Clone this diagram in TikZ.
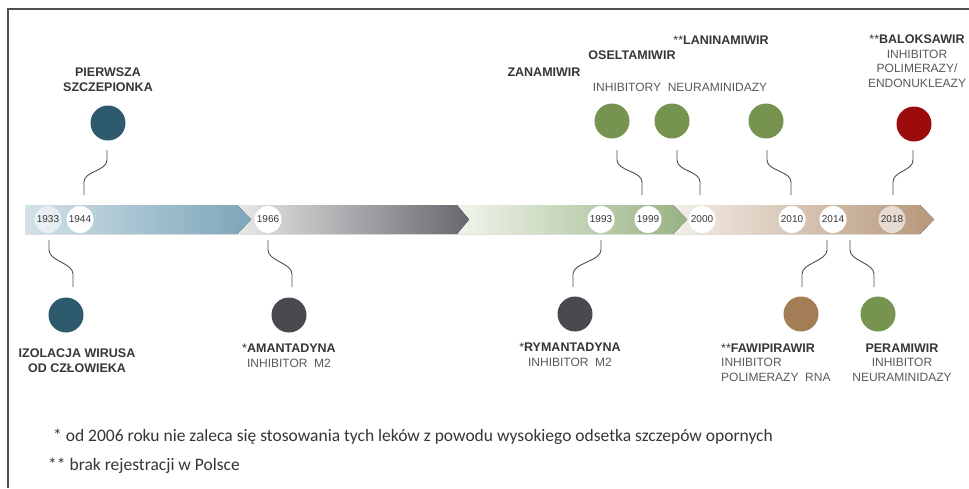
\documentclass[tikz,border=0pt]{standalone}
\usepackage{fontspec}
\setmainfont{Liberation Sans}
\newfontfamily\footfont{Carlito}
\usetikzlibrary{calc}
\definecolor{cteal}{HTML}{2E5A6D}
\definecolor{cdgray}{HTML}{4A494F}
\definecolor{cgreen}{HTML}{76934F}
\definecolor{cbrown}{HTML}{A37D55}
\definecolor{cred}{HTML}{9C0B0B}
\definecolor{ctxt}{HTML}{363636}
\definecolor{cntxt}{HTML}{5A5A5A}
\definecolor{cline}{HTML}{4F4F4F}
\definecolor{g1l}{HTML}{D2E1E8}\definecolor{g1r}{HTML}{7CA6B9}
\definecolor{g2l}{HTML}{E8E8E8}\definecolor{g2r}{HTML}{68676F}
\definecolor{g3l}{HTML}{F1F5EC}\definecolor{g3r}{HTML}{98B283}
\definecolor{g4l}{HTML}{F4EEE9}\definecolor{g4r}{HTML}{B6977A}
\newcommand\mywig[2]{\draw[conn] (#1) -- ($(#1)+(0,10)$) .. controls ($(#1)+(0,21)$) and ($(#2)+(0,-24)$) .. ($(#2)+(0,-13)$) -- (#2);}
\begin{document}
\begin{tikzpicture}[x=1pt,y=-1pt,
  dot/.style={circle,minimum size=35pt,inner sep=0pt},
  yr/.style={circle,fill=white,minimum size=27pt,inner sep=0pt,text=ctxt,font=\fontsize{10}{12}\selectfont},
  conn/.style={draw=cline,line width=0.9pt},
  lbl/.style={align=center,text=ctxt,font=\fontsize{12.5}{14.6}\selectfont\bfseries,inner sep=0pt},
  sub/.style={align=center,text=cntxt,font=\fontsize{12}{14.6}\selectfont,inner sep=0pt},
  mix/.style={align=center,text=cntxt,font=\fontsize{12}{14.6}\selectfont,inner sep=0pt},
  fnote/.style={anchor=west,inner sep=0pt,text=ctxt,font=\footfont\fontsize{17.5}{19}\selectfont},
  frame/.style={draw=cline,line width=1.2pt}]
\useasboundingbox (0,0) rectangle (969,488);
\fill[white] (0,0) rectangle (969,488);
% frame
\draw[frame] (8,488) -- (8,9) -- (969,9);
% timeline segments (right to left so chevrons overlap)
\fill[left color=g4l, right color=g4r] (673,205) -- (920,205) -- (934,219.5) -- (920,234) -- (673,234) -- cycle;
\fill[left color=g3l, right color=g3r] (457,205) -- (673,205) -- (687,219.5) -- (673,234) -- (457,234) -- cycle;
\fill[left color=g2l, right color=g2r] (237,205) -- (457,205) -- (469,219.5) -- (457,234) -- (237,234) -- cycle;
\fill[left color=g1l, right color=g1r] (25,205) -- (237,205) -- (251,219.5) -- (237,234) -- (25,234) -- cycle;
% years
\node[yr,fill opacity=0.55,text opacity=1] (y1933) at (48,219.5) {1933};
\node[yr] (y1944) at (80,219.5) {1944};
\node[yr] (y1966) at (268,219.5) {1966};
\node[yr] (y1993) at (601,219.5) {1993};
\node[yr] (y1999) at (648,219.5) {1999};
\node[yr] (y2000) at (702,219.5) {2000};
\node[yr] (y2010) at (792,219.5) {2010};
\node[yr] (y2014) at (833,219.5) {2014};
\node[yr,fill opacity=0.6,text opacity=1] (y2018) at (892,219.5) {2018};
% dots
\node[dot,fill=cteal] (d1) at (108,123) {};
\node[dot,fill=cteal] (d2) at (66,315) {};
\node[dot,fill=cdgray] (d3) at (289,315) {};
\node[dot,fill=cdgray] (d4) at (575,314) {};
\node[dot,fill=cgreen] (d5) at (612,121) {};
\node[dot,fill=cgreen] (d6) at (672,121) {};
\node[dot,fill=cgreen] (d7) at (766,121) {};
\node[dot,fill=cred] (d8) at (914,124) {};
\node[dot,fill=cbrown] (d9) at (801,314) {};
\node[dot,fill=cgreen] (d10) at (878,314) {};
% connector end points
\coordinate (a1) at (107,150); \coordinate (b1) at (84,195);
\coordinate (a5) at (617,150); \coordinate (b5) at (642,195);
\coordinate (a6) at (677,150); \coordinate (b6) at (700,195);
\coordinate (a7) at (767,150); \coordinate (b7) at (791,195);
\coordinate (a8) at (913,150); \coordinate (b8) at (893,195);
\coordinate (a2) at (49,240); \coordinate (b2) at (73,287);
\coordinate (a3) at (268,240); \coordinate (b3) at (292,287);
\coordinate (a4) at (601,240); \coordinate (b4) at (573,287);
\coordinate (a9) at (827,240); \coordinate (b9) at (802,287);
\coordinate (a10) at (850,240); \coordinate (b10) at (874,287);
\mywig{a1}{b1}
\mywig{a5}{b5}
\mywig{a6}{b6}
\mywig{a7}{b7}
\mywig{a8}{b8}
\mywig{a2}{b2}
\mywig{a3}{b3}
\mywig{a4}{b4}
\mywig{a9}{b9}
\mywig{a10}{b10}
% labels top
\node[lbl] (t1) at (108,79.5) {PIERWSZA\\SZCZEPIONKA};
\node[lbl] (t2) at (544,72) {ZANAMIWIR};
\node[lbl] (t3) at (632,55) {OSELTAMIWIR};
\node[lbl] (t4) at (721,40) {{\mdseries **}LANINAMIWIR};
\node[sub] (t5) at (680,87) {INHIBITORY\ \ NEURAMINIDAZY};
\node[mix] (t6) at (917,61) {{\bfseries\color{ctxt}\fontsize{12.5}{14.6}\selectfont{\mdseries **}BALOKSAWIR}\\INHIBITOR\\POLIMERAZY/\\ENDONUKLEAZY};
% labels bottom
\node[lbl] (l2) at (77,360.5) {IZOLACJA WIRUSA\\OD CZŁOWIEKA};
\node[mix] (l3) at (289,356) {{\bfseries\color{ctxt}\fontsize{12.5}{14.6}\selectfont{\mdseries *}AMANTADYNA}\\INHIBITOR\ \ M2};
\node[mix] (l4) at (570,355) {{\bfseries\color{ctxt}\fontsize{12.5}{14.6}\selectfont{\mdseries *}RYMANTADYNA}\\INHIBITOR\ \ M2};
\node[mix,align=left,anchor=west] (l9) at (721,362.5) {{\bfseries\color{ctxt}\fontsize{12.5}{14.6}\selectfont{\mdseries **}FAWIPIRAWIR}\\INHIBITOR\\POLIMERAZY\ \ RNA};
\node[mix] (l10) at (902,362.5) {{\bfseries\color{ctxt}\fontsize{12.5}{14.6}\selectfont PERAMIWIR}\\INHIBITOR\\NEURAMINIDAZY};
% footnotes
\node[fnote] (f1) at (53,437) {* od 2006 roku nie zaleca się stosowania tych leków z powodu wysokiego odsetka szczepów opornych};
\node[fnote] (f2) at (48,466) {** brak rejestracji w Polsce};
\end{tikzpicture}
\end{document}
